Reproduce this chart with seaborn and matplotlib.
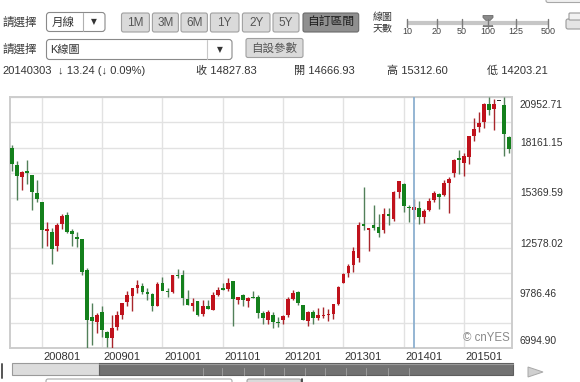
import numpy as np
import pandas as pd
import matplotlib
matplotlib.use("Agg")
import matplotlib.pyplot as plt
from matplotlib.patches import FancyBboxPatch, Rectangle, Polygon
import seaborn as sns

# ---------------- data (monthly candles, 200707 .. 201510) ----------------
months = [p.strftime("%Y%m") for p in pd.period_range("2007-07", "2015-10", freq="M")]

opens = [
    18133, 17206, 16516, 16845, 16621, 15651,
    15156, 13497, 13464, 12656, 13934, 14409, 13502, 13200, 13050, 11369, 8744, 8448,
    8991, 7913, 7542, 8181, 8839, 9560, 9908, 10369, 10440, 10102, 10025, 9336,
    10609, 10205, 10141, 11104, 11063, 9748, 9337, 9600, 8894, 9371, 9149, 9955,
    10352, 10274, 10754, 9708, 9964, 9608, 9867, 9845, 8932, 8593, 8861, 8464,
    8560, 8837, 9724, 10109, 9380, 8488, 9003, 8692, 8801, 8832, 8924, 9479,
    10604, 11190, 11629, 12004, 13884, 13568, 13852, 13758, 13573, 14452, 14208, 15683,
    16147, 14870, 14667, 14791, 14289, 14690, 15242, 15593, 15505, 16160, 16720, 17590,
    17325, 17648, 18800, 19295, 19603, 20570, 20329, 20780, 20520, 18760]
highs = [
    18295, 17430, 16880, 17488, 16622, 16330,
    15156, 14031, 13687, 13951, 14489, 14601, 13603, 13461, 13050, 11486, 9503, 8980,
    9325, 7955, 8843, 9078, 9522, 10170, 10356, 10767, 10625, 10343, 10097, 10707,
    10982, 10334, 11097, 11408, 11339, 10238, 9788, 9644, 9686, 9691, 10115, 10394,
    10621, 10891, 10754, 9853, 10017, 9868, 10207, 9963, 9092, 9152, 8999, 8760,
    8866, 9866, 10255, 10190, 9380, 9044, 9136, 9222, 9288, 9179, 9460, 10433,
    11191, 11662, 12650, 14018, 15942, 13711, 14953, 14466, 14817, 14799, 15749, 16320,
    16164, 14957, 15313, 15164, 14726, 15376, 15759, 15637, 16375, 16534, 17520, 18030,
    17866, 18798, 19778, 20133, 20655, 20953, 20850, 20780, 20946, 18800]
lows = [
    16870, 15262, 15801, 16107, 14669, 15155,
    12573, 12690, 11691, 12426, 13628, 13406, 12671, 12601, 11052, 6995, 7162, 7863,
    7647, 7054, 7021, 8027, 8632, 9335, 9050, 10086, 9991, 9674, 9076, 9336,
    10213, 9867, 10087, 10906, 9395, 9379, 9091, 8807, 8797, 9157, 9124, 9900,
    10241, 10177, 8227, 9441, 9351, 9318, 9803, 8656, 8359, 8343, 8135, 8160,
    8349, 8760, 9706, 9380, 8541, 8238, 8328, 8585, 8690, 8488, 8620, 9380,
    10599, 10984, 11234, 11805, 13555, 12415, 13549, 13188, 13431, 13853, 14057, 15358,
    14548, 13995, 14203, 13885, 13964, 14648, 15114, 14753, 15468, 14529, 16524, 16672,
    16593, 17271, 18531, 19034, 19258, 19990, 19115, 20780, 17710, 17880]
closes = [
    17248, 16569, 16786, 16737, 15681, 15308,
    13592, 13603, 12525, 13849, 14338, 13481, 13376, 13072, 11259, 8576, 8512, 8860,
    7994, 7568, 8109, 8828, 9523, 9958, 10357, 10492, 10133, 10034, 9345, 10546,
    10198, 10126, 11089, 11057, 9768, 9382, 9537, 8824, 9369, 9202, 9937, 10229,
    10237, 10624, 9755, 9849, 9693, 9816, 9833, 8955, 8700, 8988, 8434, 8455,
    8802, 9723, 10083, 9521, 8543, 9007, 8695, 8840, 8870, 8928, 9446, 10395,
    11138, 11559, 12398, 13861, 13775, 13677, 13668, 13389, 14456, 14328, 15662, 16291,
    14915, 14841, 14828, 14304, 14632, 15162, 15621, 15425, 16174, 16414, 17460, 17451,
    17674, 18798, 19207, 19520, 20563, 20236, 20585, 20780, 18900, 18100]

x_tick_labels = ["200801", "200901", "201001", "201101", "201201", "201301", "201401", "201501"]
y_min, y_max = 6994.90, 20952.71
y_tick_labels = ["6994.90", "9786.46", "12578.02", "15369.59", "18161.15", "20952.71"]
cross_month = "201403"

period_label = "月線"
chart_type = "K線圖"
range_buttons = ["1M", "3M", "6M", "1Y", "2Y", "5Y", "自訂區間"]
slider_labels = ["10", "20", "50", "100", "125", "500"]
info_date = "20140303"
info_change = "↓ 13.24 (↓ 0.09%)"
info_items = ["收 14827.83", "開 14666.93", "高 15312.60", "低 14203.21"]

# ---------------- style ----------------
sns.set_style("white")
BASE = ['Liberation Sans', 'Noto Sans CJK TC', 'DejaVu Sans']
CJK = ['Noto Sans CJK TC', 'DejaVu Sans']
plt.rcParams['font.family'] = BASE

W, H = 580, 382
fig = plt.figure(figsize=(W / 100, H / 100), dpi=100)
fig.patch.set_facecolor('white')

ov = fig.add_axes([0, 0, 1, 1], zorder=0)
ov.set_xlim(0, W)
ov.set_ylim(H, 0)
ov.axis('off')


def rbox(x0, y0, x1, y1, fc, ec, lw=0.8, r=2.5):
    ov.add_patch(FancyBboxPatch((x0, y0), x1 - x0, y1 - y0,
                                boxstyle=f"round,pad=0,rounding_size={r}",
                                fc=fc, ec=ec, lw=lw))


def txt(x, y, s, size=8, color='#333333', ha='left', family=None):
    ov.text(x, y, s, fontsize=size, color=color, ha=ha, va='center',
            family=family if family else BASE)


# ---- header row 1 ----
txt(2, 22, "請選擇", 8.3, '#3a3a3a', family=CJK)
rbox(46.5, 12.5, 105, 31.5, 'white', '#8a8a8a', r=3)
ov.plot([82.5, 82.5], [13, 31], color='#b0b0b0', lw=0.8)
txt(52, 22, period_label, 8.3, '#333333', family=CJK)
ov.text(93.5, 22, "▼", fontsize=5.5, ha='center', va='center', color='#333', family='DejaVu Sans')

btn_x = [(121.5, 149.4), (152.4, 178.4), (181, 207.4), (210.4, 239), (242.4, 270), (273, 299), (303, 358.7)]
for lab, (a, b) in zip(range_buttons, btn_x):
    pressed = lab == "自訂區間"
    rbox(a, 13, b, 32, '#8f8f8f' if pressed else '#dadada', '#6a6a6a' if pressed else '#a0a0a0', r=2)
    txt((a + b) / 2, 22.5, lab, 8.5, '#1e1e1e' if pressed else '#555555', ha='center')

txt(373, 17, "線圖", 7.2, '#333', family=CJK)
txt(373, 28.5, "天數", 7.2, '#333', family=CJK)
ov.plot([407, 548], [22.5, 22.5], color='#c6c6c6', lw=3, solid_capstyle='butt')
slider_x = [407, 436.8, 462, 488, 515.6, 548]
for sx, sl in zip(slider_x, slider_labels):
    ov.plot([sx, sx], [18.5, 26.5], color='#7a7a7a', lw=1)
    txt(sx, 32, sl, 6.5, '#444', ha='center')
ov.add_patch(Polygon([(483, 15.5), (493, 15.5), (493, 17.5), (489.5, 21), (493, 26.5), (483, 26.5),
                      (486.5, 21), (483, 17.5)], closed=True, fc='#8a8a8a', ec='#6a6a6a', lw=0.6))
# printer-like icon and partial top-right box
rbox(566, 19, 584, 29, '#e4e4e4', '#9a9a9a', r=2)
rbox(569, 13, 581, 20, '#f2f2f2', '#9a9a9a', r=1)
rbox(546, -6, 590, 2.5, '#f0f0f0', '#a8a8a8', r=2)

# ---- header row 2 ----
txt(2, 49, "請選擇", 8.3, '#3a3a3a', family=CJK)
rbox(46.5, 39.5, 232, 59.5, 'white', '#8a8a8a', r=3)
txt(50, 49.5, chart_type, 8, '#333')
ov.plot([207, 207], [40, 59], color='#c8c8c8', lw=0.8)
ov.text(219.5, 49.5, "▼", fontsize=5.5, ha='center', va='center', color='#333', family='DejaVu Sans')
rbox(246, 38.5, 303, 57.5, '#dadada', '#a0a0a0', r=2)
txt(274.5, 48, "自設參數", 8.3, '#555', ha='center', family=CJK)

# ---- header row 3 ----
txt(2, 71, info_date, 8, '#333')
txt(58, 71, info_change, 8, '#333')
for xx, it in zip([196, 294, 387, 487], info_items):
    txt(xx, 71, it, 8, '#333')

# ---- bottom scroll bar ----
ov.add_patch(Rectangle((11.5, 363), 87, 12, fc='#dcdcdc', ec='#9a9a9a', lw=0.8))
ov.add_patch(Rectangle((98.5, 363), 414.5, 12, fc='#727272', ec='#5e5e5e', lw=0.8))
ov.plot([99, 512.5], [363.8, 363.8], color='#9a9a9a', lw=0.8)
for sx in [202.6, 222.3, 243.5, 264, 284, 305, 325, 346, 366, 388, 409]:
    ov.plot([sx, sx], [368, 375], color='#9c9c9c', lw=0.7)
ov.add_patch(Polygon([(528, 367), (543, 372), (528, 377)], closed=True, fc='#d0d0d0', ec='#a8a8a8', lw=0.7))
ov.plot([1.5, 1.5], [364, 378], color='#555', lw=1.4)
rbox(46, 379, 232, 392, 'white', '#a8a8a8', r=2)
rbox(247, 379, 301, 392, '#dadada', '#a0a0a0', r=2)
ov.plot([302, 302], [379, 382], color='#333', lw=1.2)

# ---------------- chart ----------------
ax = fig.add_axes([10 / W, 1 - 348.3 / H, 502 / W, 251 / H], zorder=2)
ax.set_facecolor('white')

idx = np.arange(len(months))
o = np.array(opens, float)
h = np.array(highs, float)
l = np.array(lows, float)
c = np.array(closes, float)

up_col, dn_col, eq_col = '#c0121c', '#14801c', '#303030'
up_wick, dn_wick = '#a8262c', '#52805a'
body_cols = np.where(c > o, up_col, np.where(c < o, dn_col, eq_col))
wick_cols = np.where(c > o, up_wick, np.where(c < o, dn_wick, eq_col))

ax.vlines(idx, l, h, colors=wick_cols, lw=1.0, zorder=3)
heights = np.maximum(np.abs(c - o), 60)
bottoms = np.minimum(o, c) - np.where(np.abs(c - o) < 60, 30, 0)
ax.bar(idx, heights, bottom=bottoms, width=0.72, color=body_cols, lw=0, zorder=4)

ax.set_xlim(-0.34, 99.54)
ax.set_ylim(y_min, y_max)
jan_idx = [months.index(m) for m in x_tick_labels]
grid_vals = np.linspace(y_min, y_max, 11)
ax.set_xticks(jan_idx)
ax.set_yticks(grid_vals)
ax.set_xticklabels([])
ax.set_yticklabels([])
ax.tick_params(length=0)
ax.grid(True, color='#e2e2e2', lw=1)
ax.set_axisbelow(True)
for sp in ax.spines.values():
    sp.set_color('#cdcdcd')
    sp.set_linewidth(1.4)

ax.axvline(months.index(cross_month), color='#8cb0d0', lw=1.3, zorder=5)

for i, lab in enumerate(x_tick_labels):
    ax.annotate(lab, xy=(jan_idx[i], 0), xycoords=('data', 'axes fraction'),
                xytext=(1.5, -8.4), textcoords='offset pixels',
                ha='left', va='center', fontsize=8, color='#333', annotation_clip=False)

n = len(y_tick_labels)
for i, lab in enumerate(y_tick_labels):
    v = grid_vals[2 * i]
    if i == 0:
        dy = 7.6
    elif i == n - 1:
        dy = -7.7
    else:
        dy = 4.3
    ax.annotate(lab, xy=(1, v), xycoords=('axes fraction', 'data'),
                xytext=(8, dy), textcoords='offset pixels',
                ha='left', va='center', fontsize=7.4, color='#333', annotation_clip=False)

ax.annotate("© cnYES", xy=(1, 0), xycoords='axes fraction', xytext=(-2, 10),
            textcoords='offset pixels', ha='right', va='center', fontsize=8.3, color='#8a8a8a')

fig.savefig("out.png", dpi=100)
